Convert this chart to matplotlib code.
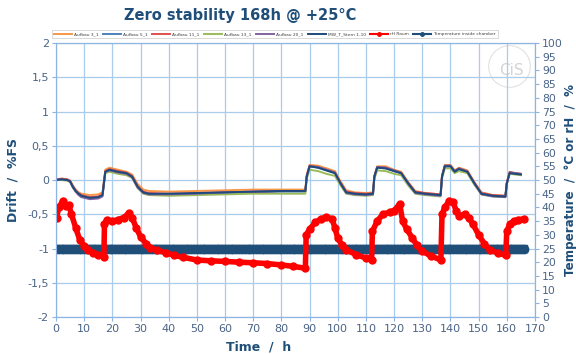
import matplotlib.pyplot as plt
from matplotlib.ticker import FuncFormatter, MultipleLocator

# drift readings (%FS) at shared time points (h)
t_drift = [0, 2, 4, 5, 6, 7, 8, 9, 12, 15, 16.5, 17, 17.5, 19, 22, 25, 27, 29, 31, 33,
           40, 50, 60, 70, 80, 88.5, 89, 90, 93, 96, 99, 101, 103, 106, 110, 112.5,
           113, 114, 117, 120, 122.5, 125, 127.5, 131, 136.5, 137, 138, 140, 141.5, 143,
           146, 148.5, 151, 155, 159.5, 160, 161, 163, 165]

aufbau_3 = [0.0, 0.02, 0.01, -0.01, -0.08, -0.14, -0.18, -0.2, -0.22, -0.21, -0.18, -0.02, 0.15, 0.18, 0.15, 0.12, 0.08, -0.06, -0.14, -0.16,
            -0.17, -0.16, -0.15, -0.14, -0.14, -0.14, 0.08, 0.22, 0.21, 0.17, 0.13, -0.02, -0.15, -0.18, -0.19, -0.18,
            0.06, 0.2, 0.2, 0.15, 0.12, -0.03, -0.16, -0.19, -0.21, 0.06, 0.22, 0.22, 0.14, 0.18,
            0.14, -0.03, -0.18, -0.22, -0.23, -0.04, 0.11, 0.1, 0.09]
aufbau_5 = [0.0, 0.01, 0.0, -0.02, -0.1, -0.16, -0.2, -0.23, -0.26, -0.25, -0.22, -0.05, 0.12, 0.15, 0.12, 0.1, 0.05, -0.1, -0.18, -0.2,
            -0.21, -0.2, -0.19, -0.18, -0.17, -0.17, 0.05, 0.2, 0.18, 0.14, 0.1, -0.05, -0.18, -0.2, -0.21, -0.2,
            0.05, 0.18, 0.17, 0.13, 0.1, -0.05, -0.18, -0.2, -0.22, 0.05, 0.2, 0.2, 0.12, 0.16,
            0.12, -0.05, -0.2, -0.23, -0.24, -0.05, 0.1, 0.09, 0.08]
aufbau_11 = [0.01, 0.02, 0.01, -0.01, -0.09, -0.15, -0.19, -0.22, -0.25, -0.24, -0.21, -0.04, 0.13, 0.16, 0.13, 0.11, 0.06, -0.09, -0.17, -0.19,
             -0.2, -0.19, -0.18, -0.17, -0.16, -0.16, 0.06, 0.21, 0.19, 0.15, 0.11, -0.04, -0.17, -0.19, -0.2, -0.19,
             0.06, 0.19, 0.18, 0.14, 0.11, -0.04, -0.17, -0.19, -0.21, 0.06, 0.21, 0.21, 0.13, 0.17,
             0.13, -0.04, -0.19, -0.22, -0.23, -0.04, 0.12, 0.1, 0.09]
aufbau_13 = [0.0, 0.0, -0.01, -0.03, -0.11, -0.17, -0.21, -0.24, -0.27, -0.26, -0.23, -0.07, 0.1, 0.12, 0.09, 0.07, 0.03, -0.12, -0.2, -0.22,
             -0.23, -0.22, -0.21, -0.2, -0.2, -0.2, 0.02, 0.15, 0.13, 0.09, 0.06, -0.08, -0.2, -0.22, -0.23, -0.22,
             0.02, 0.14, 0.13, 0.09, 0.07, -0.08, -0.2, -0.22, -0.24, 0.02, 0.17, 0.17, 0.1, 0.13,
             0.1, -0.07, -0.21, -0.24, -0.25, -0.06, 0.09, 0.08, 0.07]
aufbau_20 = [0.0, 0.01, 0.0, -0.02, -0.11, -0.17, -0.22, -0.25, -0.28, -0.27, -0.24, -0.06, 0.12, 0.14, 0.11, 0.09, 0.04, -0.11, -0.19, -0.21,
             -0.21, -0.2, -0.18, -0.17, -0.16, -0.16, 0.06, 0.2, 0.19, 0.15, 0.11, -0.05, -0.19, -0.21, -0.22, -0.21,
             0.05, 0.19, 0.18, 0.14, 0.1, -0.05, -0.19, -0.21, -0.23, 0.05, 0.21, 0.21, 0.13, 0.17,
             0.12, -0.05, -0.21, -0.24, -0.25, -0.05, 0.11, 0.1, 0.09]
mw_t_stern = [0.0, 0.01, 0.0, -0.02, -0.1, -0.16, -0.2, -0.23, -0.26, -0.25, -0.22, -0.05, 0.12, 0.15, 0.12, 0.1, 0.05, -0.1, -0.18, -0.2,
              -0.2, -0.19, -0.18, -0.17, -0.16, -0.16, 0.05, 0.2, 0.18, 0.14, 0.1, -0.05, -0.18, -0.2, -0.21, -0.2,
              0.05, 0.18, 0.17, 0.13, 0.1, -0.05, -0.18, -0.2, -0.22, 0.05, 0.2, 0.2, 0.12, 0.16,
              0.12, -0.05, -0.2, -0.23, -0.24, -0.05, 0.1, 0.09, 0.08]

# room humidity (%rH) readings
t_rh = [0.2, 1, 2.5, 3.5, 4.5, 5.5, 7, 8.5, 10, 11.5, 13, 15, 17, 17.2, 18, 20, 22, 24, 26, 27,
        28.5, 30, 32, 33.5, 36, 39, 42, 45, 50, 55, 60, 65, 70, 75, 80, 84, 88.5, 88.8, 90, 92,
        94, 96, 98, 99, 100, 101.5, 103, 106.5, 110, 112, 112.3, 114, 116, 118.5, 120, 122, 123, 124.5, 126.5, 128,
        130, 133, 136.6, 137, 138, 139.6, 141, 142, 143, 145, 146.5, 148, 150, 152, 154, 157, 159.6, 160, 161, 162.5,
        164, 166]
rh_raum = [36.3, 40, 42.5, 40.5, 41, 37.5, 32.5, 28, 26, 24.5, 23.5, 22.8, 22, 33.8, 35.5, 35, 35.5, 36.3, 38, 36.3,
           32.5, 29.3, 26.8, 25.3, 24.3, 23.5, 22.5, 21.8, 20.8, 20.5, 20.3, 20, 19.8, 19.5, 19, 18.5, 17.8, 30, 32, 34.5,
           35.8, 36.5, 35.8, 32.5, 28.8, 26.3, 24.5, 22.8, 21.5, 20.8, 31.3, 35, 37.5, 38.3, 38.8, 41.3, 35, 32, 28.8, 26.3,
           24, 22.3, 20.8, 37.5, 40, 42.5, 41.8, 38.8, 37, 37.5, 36.3, 33.8, 30, 26.8, 24.5, 23.3, 22.5, 31.3, 33.8, 35,
           35.5, 35.8]

# chamber temperature (°C), hourly
t_temp = list(range(0, 167))
temp_chamber = [25.0] * len(t_temp)

labels = ["Aufbau 3_1", "Aufbau 5_1", "Aufbau 11_1", "Aufbau 13_1", "Aufbau 20_1",
          "MW_T_Stern 1-10", "rH Raum", "Temperature inside chamber"]
drift_colors = ["#F79646", "#4F81BD", "#E05050", "#9BBB59", "#8064A2", "#1F497D"]

navy = "#1F4E79"
tick_col = "#4A6486"
spine_col = "#8DB3E2"
grid_col = "#A9CCEA"

fig = plt.figure(figsize=(5.76, 3.54), dpi=100)
ax = fig.add_axes([0.0972, 0.1045, 0.8316, 0.774])
ax2 = ax.twinx()

ax.set_xlim(0, 170)
ax.set_ylim(-2, 2)
ax2.set_ylim(0, 100)
ax.xaxis.set_major_locator(MultipleLocator(10))
ax.yaxis.set_major_locator(MultipleLocator(0.5))
ax2.yaxis.set_major_locator(MultipleLocator(5))
ax.yaxis.set_major_formatter(FuncFormatter(lambda v, p: ("%g" % v).replace(".", ",")))

ax.grid(True, color=grid_col, lw=0.9)
ax.set_axisbelow(True)

# faint logo watermark
ax.plot([0.945], [0.915], transform=ax.transAxes, marker="o", ms=30, mfc="none",
        mec="#e2e2e2", mew=0.8, zorder=0)
ax.text(0.95, 0.9, "CiS", transform=ax.transAxes, color="#d4d4d4", fontsize=11,
        ha="center", va="center", zorder=0)

lines = []
for vals, c, lab in zip([aufbau_3, aufbau_5, aufbau_11, aufbau_13, aufbau_20, mw_t_stern],
                        drift_colors, labels[:6]):
    ln, = ax.plot(t_drift, vals, color=c, lw=1.4, label=lab)
    lines.append(ln)

ln_t, = ax2.plot(t_temp, temp_chamber, color=navy, lw=6, marker="o", ms=6, label=labels[7])
ln_rh, = ax2.plot(t_rh, rh_raum, color="red", lw=4, marker="o", ms=5, label=labels[6])

for a in (ax, ax2):
    for s in a.spines.values():
        s.set_color(spine_col)
    a.tick_params(colors=tick_col, labelsize=8, length=3, width=0.8, pad=2)
ax.tick_params(axis="both", color=spine_col)
ax2.tick_params(axis="y", color=spine_col, labelsize=7.8)

ax.set_ylabel("Drift  /  %FS", color=navy, fontsize=9, fontweight="bold", labelpad=6)
ax2.set_ylabel("Temperature  /  °C or rH  /  %", color=navy, fontsize=8.6, fontweight="bold", labelpad=1)
ax.set_xlabel("Time  /  h", color=navy, fontsize=9, fontweight="bold", labelpad=3)
ax.xaxis.set_label_coords(0.424, -0.085)

fig.text(0.417, 0.955, "Zero stability 168h @ +25°C", color=navy, fontsize=10.5,
         fontweight="bold", ha="center", va="center")

leg = fig.legend(lines + [ln_rh, ln_t], labels, loc="lower left",
                 bbox_to_anchor=(0.087, 0.886, 0.781, 0.033), mode="expand", ncol=8,
                 fontsize=3.2, frameon=True, handlelength=4, borderpad=0.4,
                 columnspacing=1.0, handletextpad=0.5)
leg.get_frame().set_edgecolor("#c8c8c8")
leg.get_frame().set_linewidth(0.6)
leg.get_frame().set_boxstyle("square", pad=0)
for h in leg.legend_handles[6:]:
    h.set_linewidth(1.5)
    h.set_markersize(2.5)
for t in leg.get_texts():
    t.set_color("#404040")

fig.savefig("out.png", dpi=100)
